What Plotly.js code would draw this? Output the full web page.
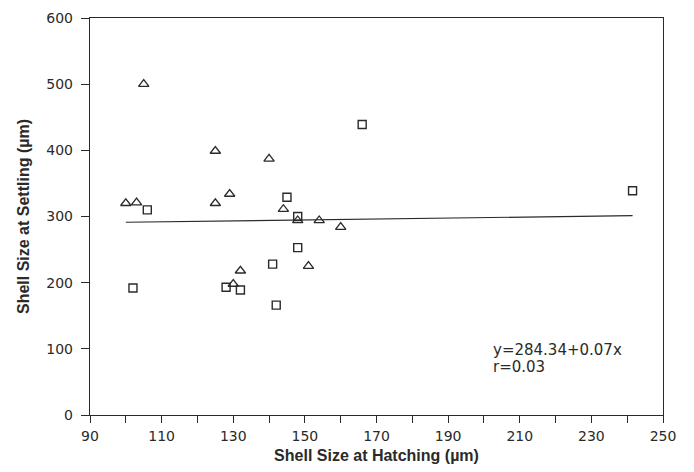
<!DOCTYPE html>
<html>
<head>
<meta charset="utf-8">
<script src="https://cdn.plot.ly/plotly-3.0.1.min.js"></script>
<style>html,body{margin:0;padding:0;background:#fff;}#chart{width:694px;height:472px;}</style>
</head>
<body>
<div id="chart"></div>
<script>
// Triangles
const triX = [105, 100, 103, 125, 125, 129, 140, 144, 148, 154, 160, 151, 132, 130];
const triY = [500, 320, 321, 399, 320, 334, 387, 311, 294, 294, 284, 225, 218, 198];
// Squares
const sqX = [106, 145, 166, 148, 241.5, 148, 141, 102, 128, 132, 142];
const sqY = [310, 329, 439, 300, 339, 253, 228, 192, 193, 189, 166];
// Regression
const intercept = 284.34;
const slope = 0.07;
const fitRange = [100, 241.5];
const eqText = ["y=284.34+0.07x", "r=0.03"];
const xTickVals = [90, 110, 130, 150, 170, 190, 210, 230, 250];
const yTickVals = [0, 100, 200, 300, 400, 500, 600];

const ink = '#2a2a2a';
const fitY = fitRange.map(x => intercept + slope * x);

const traces = [
  {x: fitRange, y: fitY, mode: 'lines', line: {color: ink, width: 1.2}, hoverinfo: 'skip'},
  {x: triX, y: triY, mode: 'markers', marker: {symbol: 'triangle-up-open', size: 9, color: ink, line: {width: 1.3, color: ink}}},
  {x: sqX, y: sqY, mode: 'markers', marker: {symbol: 'square-open', size: 8, color: ink, line: {width: 1.4, color: ink}}}
];

const fontFam = '"DejaVu Sans", Verdana, sans-serif';
const titleFam = '"Liberation Sans", Arial, sans-serif';
const layout = {
  width: 694, height: 472,
  margin: {l: 90, r: 31, t: 18, b: 57},
  showlegend: false,
  paper_bgcolor: '#fff', plot_bgcolor: '#fff',
  font: {family: fontFam, color: ink, size: 14},
  xaxis: {
    range: [90, 250], tickvals: xTickVals, ticks: 'outside', ticklen: 7, tickcolor: ink,
    minor: {dtick: 10, tick0: 90, ticks: 'outside', ticklen: 7, tickcolor: ink, showgrid: false},
    showgrid: false, zeroline: false, showline: true, mirror: true, linecolor: ink, linewidth: 1.2,
    tickfont: {size: 14, family: fontFam}, ticklabelstandoff: 1,
    title: {text: 'Shell Size at Hatching (µm)', font: {size: 16, family: titleFam, weight: 'bold'}, standoff: 6}
  },
  yaxis: {
    range: [0, 600], tickvals: yTickVals, ticks: 'outside', ticklen: 8, tickcolor: ink,
    showgrid: false, zeroline: false, showline: true, mirror: true, linecolor: ink, linewidth: 1.2,
    tickfont: {size: 14, family: fontFam}, ticklabelstandoff: 5,
    title: {text: 'Shell Size at Settling (µm)', font: {size: 16, family: titleFam, weight: 'bold'}, standoff: 12}
  },
  annotations: [
    {x: 202, y: 98, xref: 'x', yref: 'y', text: eqText[0], showarrow: false, xanchor: 'left', yanchor: 'middle', font: {size: 15, family: fontFam, color: ink}},
    {x: 202, y: 72, xref: 'x', yref: 'y', text: eqText[1], showarrow: false, xanchor: 'left', yanchor: 'middle', font: {size: 15, family: fontFam, color: ink}}
  ]
};

Plotly.newPlot('chart', traces, layout, {displayModeBar: false, staticPlot: true});
</script>
</body>
</html>
